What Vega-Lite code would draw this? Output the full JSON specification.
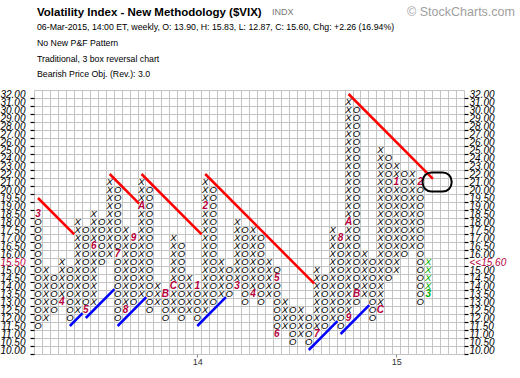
{
"$schema":"https://vega.github.io/schema/vega-lite/v6.json",
"width":430,"height":264,"autosize":"none",
"padding":{"left":34,"top":90,"right":56,"bottom":24},
"background":"white",
"config":{"view":{"stroke":null},"font":"Liberation Sans"},
"title":{"text":"Volatility Index - New Methodology ($VIX)","subtitle":["06-Mar-2015, 14:00 ET, weekly, O: 13.90, H: 15.83, L: 12.87, C: 15.60, Chg: +2.26 (16.94%)","No New P&F Pattern","Traditional, 3 box reversal chart","Bearish Price Obj. (Rev.): 3.0"],"anchor":"start","frame":"group","dx":3,"font":"Liberation Sans","fontSize":11.5,"fontWeight":"bold","color":"#000","subtitleFont":"Liberation Sans","subtitleFontSize":8.75,"subtitleColor":"#000","subtitleLineHeight":15.6,"subtitlePadding":5,"offset":-73},
"datasets":{
"pf":[
{"c":0,"r":15,"s":"3"},{"c":0,"r":16,"s":"O"},{"c":0,"r":17,"s":"O"},{"c":0,"r":18,"s":"O"},{"c":0,"r":19,"s":"O"},{"c":0,"r":20,"s":"O"},{"c":0,"r":21,"s":"O"},{"c":0,"r":22,"s":"O"},{"c":0,"r":23,"s":"O"},{"c":0,"r":24,"s":"O"},{"c":0,"r":25,"s":"O"},{"c":0,"r":26,"s":"O"},{"c":0,"r":27,"s":"O"},{"c":0,"r":28,"s":"O"},{"c":0,"r":29,"s":"O"},
{"c":1,"r":22,"s":"X"},{"c":1,"r":23,"s":"X"},{"c":1,"r":24,"s":"X"},{"c":1,"r":25,"s":"X"},{"c":1,"r":26,"s":"X"},{"c":1,"r":27,"s":"X"},{"c":1,"r":28,"s":"X"},
{"c":2,"r":23,"s":"O"},{"c":2,"r":24,"s":"O"},{"c":2,"r":25,"s":"O"},{"c":2,"r":26,"s":"O"},{"c":2,"r":27,"s":"O"},
{"c":3,"r":21,"s":"X"},{"c":3,"r":22,"s":"X"},{"c":3,"r":23,"s":"X"},{"c":3,"r":24,"s":"X"},{"c":3,"r":25,"s":"X"},{"c":3,"r":26,"s":"4"},
{"c":4,"r":22,"s":"O"},{"c":4,"r":23,"s":"O"},{"c":4,"r":24,"s":"O"},{"c":4,"r":25,"s":"O"},{"c":4,"r":26,"s":"O"},{"c":4,"r":27,"s":"O"},{"c":4,"r":28,"s":"O"},
{"c":5,"r":16,"s":"X"},{"c":5,"r":17,"s":"X"},{"c":5,"r":18,"s":"X"},{"c":5,"r":19,"s":"X"},{"c":5,"r":20,"s":"X"},{"c":5,"r":21,"s":"X"},{"c":5,"r":22,"s":"X"},{"c":5,"r":23,"s":"X"},{"c":5,"r":24,"s":"X"},{"c":5,"r":25,"s":"X"},{"c":5,"r":26,"s":"X"},{"c":5,"r":27,"s":"X"},
{"c":6,"r":17,"s":"O"},{"c":6,"r":18,"s":"O"},{"c":6,"r":19,"s":"O"},{"c":6,"r":20,"s":"O"},{"c":6,"r":21,"s":"O"},{"c":6,"r":22,"s":"O"},{"c":6,"r":23,"s":"O"},{"c":6,"r":24,"s":"O"},{"c":6,"r":25,"s":"O"},{"c":6,"r":26,"s":"O"},{"c":6,"r":27,"s":"5"},
{"c":7,"r":15,"s":"X"},{"c":7,"r":16,"s":"X"},{"c":7,"r":17,"s":"X"},{"c":7,"r":18,"s":"X"},{"c":7,"r":19,"s":"6"},{"c":7,"r":20,"s":"X"},{"c":7,"r":21,"s":"X"},{"c":7,"r":22,"s":"X"},{"c":7,"r":23,"s":"X"},{"c":7,"r":24,"s":"X"},{"c":7,"r":25,"s":"X"},{"c":7,"r":26,"s":"X"},
{"c":8,"r":16,"s":"O"},{"c":8,"r":17,"s":"O"},{"c":8,"r":18,"s":"O"},{"c":8,"r":19,"s":"O"},{"c":8,"r":20,"s":"O"},{"c":8,"r":21,"s":"O"},
{"c":9,"r":11,"s":"X"},{"c":9,"r":12,"s":"X"},{"c":9,"r":13,"s":"X"},{"c":9,"r":14,"s":"X"},{"c":9,"r":15,"s":"X"},{"c":9,"r":16,"s":"X"},{"c":9,"r":17,"s":"X"},{"c":9,"r":18,"s":"X"},{"c":9,"r":19,"s":"X"},{"c":9,"r":20,"s":"X"},
{"c":10,"r":12,"s":"O"},{"c":10,"r":13,"s":"O"},{"c":10,"r":14,"s":"O"},{"c":10,"r":15,"s":"O"},{"c":10,"r":16,"s":"O"},{"c":10,"r":17,"s":"O"},{"c":10,"r":18,"s":"O"},{"c":10,"r":19,"s":"O"},{"c":10,"r":20,"s":"7"},{"c":10,"r":21,"s":"O"},{"c":10,"r":22,"s":"O"},{"c":10,"r":23,"s":"O"},{"c":10,"r":24,"s":"O"},{"c":10,"r":25,"s":"O"},{"c":10,"r":26,"s":"O"},{"c":10,"r":27,"s":"O"},{"c":10,"r":28,"s":"O"},
{"c":11,"r":17,"s":"X"},{"c":11,"r":18,"s":"X"},{"c":11,"r":19,"s":"X"},{"c":11,"r":20,"s":"X"},{"c":11,"r":21,"s":"X"},{"c":11,"r":22,"s":"X"},{"c":11,"r":23,"s":"X"},{"c":11,"r":24,"s":"X"},{"c":11,"r":25,"s":"X"},{"c":11,"r":26,"s":"X"},{"c":11,"r":27,"s":"8"},
{"c":12,"r":18,"s":"9"},{"c":12,"r":19,"s":"O"},{"c":12,"r":20,"s":"O"},{"c":12,"r":21,"s":"O"},{"c":12,"r":22,"s":"O"},{"c":12,"r":23,"s":"O"},{"c":12,"r":24,"s":"O"},{"c":12,"r":25,"s":"O"},{"c":12,"r":26,"s":"O"},
{"c":13,"r":11,"s":"X"},{"c":13,"r":12,"s":"X"},{"c":13,"r":13,"s":"X"},{"c":13,"r":14,"s":"A"},{"c":13,"r":15,"s":"X"},{"c":13,"r":16,"s":"X"},{"c":13,"r":17,"s":"X"},{"c":13,"r":18,"s":"X"},{"c":13,"r":19,"s":"X"},{"c":13,"r":20,"s":"X"},{"c":13,"r":21,"s":"X"},{"c":13,"r":22,"s":"X"},{"c":13,"r":23,"s":"X"},{"c":13,"r":24,"s":"X"},{"c":13,"r":25,"s":"X"},
{"c":14,"r":12,"s":"O"},{"c":14,"r":13,"s":"O"},{"c":14,"r":14,"s":"O"},{"c":14,"r":15,"s":"O"},{"c":14,"r":16,"s":"O"},{"c":14,"r":17,"s":"O"},{"c":14,"r":18,"s":"O"},{"c":14,"r":19,"s":"O"},{"c":14,"r":20,"s":"O"},{"c":14,"r":21,"s":"O"},{"c":14,"r":22,"s":"O"},{"c":14,"r":23,"s":"O"},{"c":14,"r":24,"s":"O"},{"c":14,"r":25,"s":"O"},{"c":14,"r":26,"s":"O"},{"c":14,"r":27,"s":"O"},
{"c":15,"r":24,"s":"X"},{"c":15,"r":25,"s":"X"},{"c":15,"r":26,"s":"X"},
{"c":16,"r":25,"s":"B"},{"c":16,"r":26,"s":"O"},{"c":16,"r":27,"s":"O"},{"c":16,"r":28,"s":"O"},
{"c":17,"r":18,"s":"X"},{"c":17,"r":19,"s":"X"},{"c":17,"r":20,"s":"X"},{"c":17,"r":21,"s":"X"},{"c":17,"r":22,"s":"X"},{"c":17,"r":23,"s":"X"},{"c":17,"r":24,"s":"C"},{"c":17,"r":25,"s":"X"},{"c":17,"r":26,"s":"X"},{"c":17,"r":27,"s":"X"},
{"c":18,"r":19,"s":"O"},{"c":18,"r":20,"s":"O"},{"c":18,"r":21,"s":"O"},{"c":18,"r":22,"s":"O"},{"c":18,"r":23,"s":"O"},{"c":18,"r":24,"s":"O"},{"c":18,"r":25,"s":"O"},{"c":18,"r":26,"s":"O"},{"c":18,"r":27,"s":"O"},{"c":18,"r":28,"s":"O"},
{"c":19,"r":23,"s":"X"},{"c":19,"r":24,"s":"X"},{"c":19,"r":25,"s":"X"},{"c":19,"r":26,"s":"X"},{"c":19,"r":27,"s":"X"},
{"c":20,"r":24,"s":"1"},{"c":20,"r":25,"s":"O"},{"c":20,"r":26,"s":"O"},{"c":20,"r":27,"s":"O"},{"c":20,"r":28,"s":"O"},
{"c":21,"r":11,"s":"X"},{"c":21,"r":12,"s":"X"},{"c":21,"r":13,"s":"X"},{"c":21,"r":14,"s":"2"},{"c":21,"r":15,"s":"X"},{"c":21,"r":16,"s":"X"},{"c":21,"r":17,"s":"X"},{"c":21,"r":18,"s":"X"},{"c":21,"r":19,"s":"X"},{"c":21,"r":20,"s":"X"},{"c":21,"r":21,"s":"X"},{"c":21,"r":22,"s":"X"},{"c":21,"r":23,"s":"X"},{"c":21,"r":24,"s":"X"},{"c":21,"r":25,"s":"X"},{"c":21,"r":26,"s":"X"},{"c":21,"r":27,"s":"X"},
{"c":22,"r":12,"s":"O"},{"c":22,"r":13,"s":"O"},{"c":22,"r":14,"s":"O"},{"c":22,"r":15,"s":"O"},{"c":22,"r":16,"s":"O"},{"c":22,"r":17,"s":"O"},{"c":22,"r":18,"s":"O"},{"c":22,"r":19,"s":"O"},{"c":22,"r":20,"s":"O"},{"c":22,"r":21,"s":"O"},{"c":22,"r":22,"s":"O"},{"c":22,"r":23,"s":"O"},{"c":22,"r":24,"s":"O"},{"c":22,"r":25,"s":"O"},{"c":22,"r":26,"s":"O"},
{"c":23,"r":21,"s":"X"},{"c":23,"r":22,"s":"X"},{"c":23,"r":23,"s":"X"},{"c":23,"r":24,"s":"X"},{"c":23,"r":25,"s":"X"},
{"c":24,"r":22,"s":"O"},{"c":24,"r":23,"s":"O"},{"c":24,"r":24,"s":"O"},{"c":24,"r":25,"s":"O"},
{"c":25,"r":16,"s":"X"},{"c":25,"r":17,"s":"X"},{"c":25,"r":18,"s":"X"},{"c":25,"r":19,"s":"X"},{"c":25,"r":20,"s":"X"},{"c":25,"r":21,"s":"X"},{"c":25,"r":22,"s":"X"},{"c":25,"r":23,"s":"X"},{"c":25,"r":24,"s":"3"},
{"c":26,"r":17,"s":"O"},{"c":26,"r":18,"s":"O"},{"c":26,"r":19,"s":"O"},{"c":26,"r":20,"s":"O"},{"c":26,"r":21,"s":"O"},{"c":26,"r":22,"s":"O"},{"c":26,"r":23,"s":"O"},{"c":26,"r":24,"s":"O"},{"c":26,"r":25,"s":"O"},{"c":26,"r":26,"s":"O"},
{"c":27,"r":17,"s":"X"},{"c":27,"r":18,"s":"X"},{"c":27,"r":19,"s":"X"},{"c":27,"r":20,"s":"X"},{"c":27,"r":21,"s":"X"},{"c":27,"r":22,"s":"X"},{"c":27,"r":23,"s":"X"},{"c":27,"r":24,"s":"X"},{"c":27,"r":25,"s":"4"},
{"c":28,"r":18,"s":"O"},{"c":28,"r":19,"s":"O"},{"c":28,"r":20,"s":"O"},{"c":28,"r":21,"s":"O"},{"c":28,"r":22,"s":"O"},{"c":28,"r":23,"s":"O"},{"c":28,"r":24,"s":"O"},{"c":28,"r":25,"s":"O"},{"c":28,"r":26,"s":"O"},
{"c":29,"r":21,"s":"X"},{"c":29,"r":22,"s":"X"},{"c":29,"r":23,"s":"X"},{"c":29,"r":24,"s":"X"},{"c":29,"r":25,"s":"X"},
{"c":30,"r":22,"s":"O"},{"c":30,"r":23,"s":"5"},{"c":30,"r":24,"s":"O"},{"c":30,"r":25,"s":"O"},{"c":30,"r":26,"s":"O"},{"c":30,"r":27,"s":"O"},{"c":30,"r":28,"s":"O"},{"c":30,"r":29,"s":"O"},{"c":30,"r":30,"s":"6"},
{"c":31,"r":26,"s":"X"},{"c":31,"r":27,"s":"X"},{"c":31,"r":28,"s":"X"},{"c":31,"r":29,"s":"X"},
{"c":32,"r":27,"s":"O"},{"c":32,"r":28,"s":"O"},{"c":32,"r":29,"s":"O"},{"c":32,"r":30,"s":"O"},{"c":32,"r":31,"s":"O"},
{"c":33,"r":27,"s":"X"},{"c":33,"r":28,"s":"X"},{"c":33,"r":29,"s":"X"},{"c":33,"r":30,"s":"X"},
{"c":34,"r":28,"s":"O"},{"c":34,"r":29,"s":"O"},{"c":34,"r":30,"s":"O"},{"c":34,"r":31,"s":"O"},
{"c":35,"r":22,"s":"X"},{"c":35,"r":23,"s":"X"},{"c":35,"r":24,"s":"X"},{"c":35,"r":25,"s":"X"},{"c":35,"r":26,"s":"X"},{"c":35,"r":27,"s":"X"},{"c":35,"r":28,"s":"X"},{"c":35,"r":29,"s":"X"},{"c":35,"r":30,"s":"7"},
{"c":36,"r":23,"s":"O"},{"c":36,"r":24,"s":"O"},{"c":36,"r":25,"s":"O"},{"c":36,"r":26,"s":"O"},{"c":36,"r":27,"s":"O"},{"c":36,"r":28,"s":"O"},{"c":36,"r":29,"s":"O"},
{"c":37,"r":17,"s":"X"},{"c":37,"r":18,"s":"X"},{"c":37,"r":19,"s":"X"},{"c":37,"r":20,"s":"X"},{"c":37,"r":21,"s":"X"},{"c":37,"r":22,"s":"X"},{"c":37,"r":23,"s":"X"},{"c":37,"r":24,"s":"X"},{"c":37,"r":25,"s":"X"},{"c":37,"r":26,"s":"X"},{"c":37,"r":27,"s":"X"},{"c":37,"r":28,"s":"X"},
{"c":38,"r":18,"s":"8"},{"c":38,"r":19,"s":"O"},{"c":38,"r":20,"s":"O"},{"c":38,"r":21,"s":"O"},{"c":38,"r":22,"s":"O"},{"c":38,"r":23,"s":"O"},{"c":38,"r":24,"s":"O"},{"c":38,"r":25,"s":"O"},{"c":38,"r":26,"s":"O"},{"c":38,"r":27,"s":"O"},{"c":38,"r":28,"s":"O"},{"c":38,"r":29,"s":"O"},
{"c":39,"r":1,"s":"X"},{"c":39,"r":2,"s":"X"},{"c":39,"r":3,"s":"X"},{"c":39,"r":4,"s":"X"},{"c":39,"r":5,"s":"X"},{"c":39,"r":6,"s":"X"},{"c":39,"r":7,"s":"X"},{"c":39,"r":8,"s":"X"},{"c":39,"r":9,"s":"X"},{"c":39,"r":10,"s":"X"},{"c":39,"r":11,"s":"X"},{"c":39,"r":12,"s":"X"},{"c":39,"r":13,"s":"X"},{"c":39,"r":14,"s":"X"},{"c":39,"r":15,"s":"X"},{"c":39,"r":16,"s":"A"},{"c":39,"r":17,"s":"X"},{"c":39,"r":18,"s":"X"},{"c":39,"r":19,"s":"X"},{"c":39,"r":20,"s":"X"},{"c":39,"r":21,"s":"X"},{"c":39,"r":22,"s":"X"},{"c":39,"r":23,"s":"X"},{"c":39,"r":24,"s":"X"},{"c":39,"r":25,"s":"X"},{"c":39,"r":26,"s":"X"},{"c":39,"r":27,"s":"X"},{"c":39,"r":28,"s":"9"},
{"c":40,"r":2,"s":"O"},{"c":40,"r":3,"s":"O"},{"c":40,"r":4,"s":"O"},{"c":40,"r":5,"s":"O"},{"c":40,"r":6,"s":"O"},{"c":40,"r":7,"s":"O"},{"c":40,"r":8,"s":"O"},{"c":40,"r":9,"s":"O"},{"c":40,"r":10,"s":"O"},{"c":40,"r":11,"s":"O"},{"c":40,"r":12,"s":"O"},{"c":40,"r":13,"s":"O"},{"c":40,"r":14,"s":"O"},{"c":40,"r":15,"s":"O"},{"c":40,"r":16,"s":"O"},{"c":40,"r":17,"s":"O"},{"c":40,"r":18,"s":"O"},{"c":40,"r":19,"s":"O"},{"c":40,"r":20,"s":"O"},{"c":40,"r":21,"s":"O"},{"c":40,"r":22,"s":"O"},{"c":40,"r":23,"s":"O"},{"c":40,"r":24,"s":"O"},{"c":40,"r":25,"s":"B"},{"c":40,"r":26,"s":"O"},
{"c":41,"r":20,"s":"X"},{"c":41,"r":21,"s":"X"},{"c":41,"r":22,"s":"X"},{"c":41,"r":23,"s":"X"},{"c":41,"r":24,"s":"X"},{"c":41,"r":25,"s":"X"},
{"c":42,"r":21,"s":"O"},{"c":42,"r":22,"s":"O"},{"c":42,"r":23,"s":"O"},{"c":42,"r":24,"s":"O"},{"c":42,"r":25,"s":"O"},{"c":42,"r":26,"s":"O"},{"c":42,"r":27,"s":"O"},{"c":42,"r":28,"s":"O"},
{"c":43,"r":7,"s":"X"},{"c":43,"r":8,"s":"X"},{"c":43,"r":9,"s":"X"},{"c":43,"r":10,"s":"X"},{"c":43,"r":11,"s":"X"},{"c":43,"r":12,"s":"X"},{"c":43,"r":13,"s":"X"},{"c":43,"r":14,"s":"X"},{"c":43,"r":15,"s":"X"},{"c":43,"r":16,"s":"X"},{"c":43,"r":17,"s":"X"},{"c":43,"r":18,"s":"X"},{"c":43,"r":19,"s":"X"},{"c":43,"r":20,"s":"X"},{"c":43,"r":21,"s":"X"},{"c":43,"r":22,"s":"X"},{"c":43,"r":23,"s":"X"},{"c":43,"r":24,"s":"X"},{"c":43,"r":25,"s":"X"},{"c":43,"r":26,"s":"X"},{"c":43,"r":27,"s":"C"},
{"c":44,"r":8,"s":"O"},{"c":44,"r":9,"s":"O"},{"c":44,"r":10,"s":"O"},{"c":44,"r":11,"s":"O"},{"c":44,"r":12,"s":"O"},{"c":44,"r":13,"s":"O"},{"c":44,"r":14,"s":"O"},{"c":44,"r":15,"s":"O"},{"c":44,"r":16,"s":"O"},{"c":44,"r":17,"s":"O"},{"c":44,"r":18,"s":"O"},{"c":44,"r":19,"s":"O"},{"c":44,"r":20,"s":"O"},{"c":44,"r":21,"s":"O"},{"c":44,"r":22,"s":"O"},{"c":44,"r":23,"s":"O"},
{"c":45,"r":9,"s":"X"},{"c":45,"r":10,"s":"X"},{"c":45,"r":11,"s":"1"},{"c":45,"r":12,"s":"X"},{"c":45,"r":13,"s":"X"},{"c":45,"r":14,"s":"X"},{"c":45,"r":15,"s":"X"},{"c":45,"r":16,"s":"X"},{"c":45,"r":17,"s":"X"},{"c":45,"r":18,"s":"X"},{"c":45,"r":19,"s":"X"},{"c":45,"r":20,"s":"X"},{"c":45,"r":21,"s":"X"},{"c":45,"r":22,"s":"X"},
{"c":46,"r":10,"s":"O"},{"c":46,"r":11,"s":"O"},{"c":46,"r":12,"s":"O"},{"c":46,"r":13,"s":"O"},{"c":46,"r":14,"s":"O"},{"c":46,"r":15,"s":"O"},{"c":46,"r":16,"s":"O"},{"c":46,"r":17,"s":"O"},{"c":46,"r":18,"s":"O"},{"c":46,"r":19,"s":"O"},{"c":46,"r":20,"s":"O"},
{"c":47,"r":10,"s":"X"},{"c":47,"r":11,"s":"X"},{"c":47,"r":12,"s":"X"},{"c":47,"r":13,"s":"X"},{"c":47,"r":14,"s":"X"},{"c":47,"r":15,"s":"X"},{"c":47,"r":16,"s":"X"},{"c":47,"r":17,"s":"X"},{"c":47,"r":18,"s":"X"},{"c":47,"r":19,"s":"X"},
{"c":48,"r":11,"s":"2"},{"c":48,"r":12,"s":"O"},{"c":48,"r":13,"s":"O"},{"c":48,"r":14,"s":"O"},{"c":48,"r":15,"s":"O"},{"c":48,"r":16,"s":"O"},{"c":48,"r":17,"s":"O"},{"c":48,"r":18,"s":"O"},{"c":48,"r":19,"s":"O"},{"c":48,"r":20,"s":"O"},{"c":48,"r":21,"s":"O"},{"c":48,"r":22,"s":"O"},{"c":48,"r":23,"s":"O"},{"c":48,"r":24,"s":"O"},{"c":48,"r":25,"s":"O"},{"c":48,"r":26,"s":"O"},
{"c":49,"r":21,"s":"X"},{"c":49,"r":22,"s":"X"},{"c":49,"r":23,"s":"X"},{"c":49,"r":24,"s":"X"},{"c":49,"r":25,"s":"3"}
],
"tl":[
{"id":"R1","k":"bear","c":0,"r":13},{"id":"R1","k":"bear","c":4.55,"r":17.55},
{"id":"R2","k":"bear","c":9,"r":10},{"id":"R2","k":"bear","c":12.7,"r":13.7},
{"id":"R3","k":"bear","c":13,"r":10},{"id":"R3","k":"bear","c":20.55,"r":17.55},
{"id":"R4","k":"bear","c":21,"r":10},{"id":"R4","k":"bear","c":34.7,"r":23.7},
{"id":"R5","k":"bear","c":39,"r":0},{"id":"R5","k":"bear","c":49.6,"r":10.6},
{"id":"B1","k":"bull","c":4,"r":29},{"id":"B1","k":"bull","c":5.6,"r":27.4},
{"id":"B2","k":"bull","c":6,"r":28},{"id":"B2","k":"bull","c":9.6,"r":24.4},
{"id":"B3","k":"bull","c":10,"r":29},{"id":"B3","k":"bull","c":13.6,"r":25.4},
{"id":"B4","k":"bull","c":20,"r":29},{"id":"B4","k":"bull","c":23.6,"r":25.4},
{"id":"B5","k":"bull","c":34,"r":32},{"id":"B5","k":"bull","c":37.6,"r":28.4},
{"id":"B6","k":"bull","c":38,"r":30},{"id":"B6","k":"bull","c":41.6,"r":26.4}
],
"box":[{"c1":48.3,"c2":51.95,"r1":9.8,"r2":12.2}],
"notes":[{"c":29.4,"r":-10.25,"t":"INDX"}],
"brand":[{"c":59.9,"r":-10.25,"t":"© StockCharts.com"}]
},
"layer":[
{"data":{"name":"pf"},"transform":[{"filter":"datum.s == 'X' || datum.s == 'O'"}],
"mark":{"type":"text","font":"Liberation Sans","fontStyle":"italic","fontSize":9.5,"align":"center","baseline":"middle"},
"encoding":{
"x":{"field":"c","type":"quantitative","scale":{"domain":[-0.5,53.5],"nice":false,"zero":false},
"axis":{"orient":"top","values":[-0.5,0.5,1.5,2.5,3.5,4.5,5.5,6.5,7.5,8.5,9.5,10.5,11.5,12.5,13.5,14.5,15.5,16.5,17.5,18.5,19.5,20.5,21.5,22.5,23.5,24.5,25.5,26.5,27.5,28.5,29.5,30.5,31.5,32.5,33.5,34.5,35.5,36.5,37.5,38.5,39.5,40.5,41.5,42.5,43.5,44.5,45.5,46.5,47.5,48.5,49.5,50.5,51.5,52.5,53.5],"grid":true,"gridColor":"#c4c4c4","gridOpacity":1,"gridWidth":1,"labels":false,"ticks":false,"domain":false,"title":null}},
"y":{"field":"r","type":"quantitative","scale":{"domain":[-0.5,32.5],"nice":false,"zero":false,"reverse":true},
"axis":{"orient":"left","values":[-0.5,0.5,1.5,2.5,3.5,4.5,5.5,6.5,7.5,8.5,9.5,10.5,11.5,12.5,13.5,14.5,15.5,16.5,17.5,18.5,19.5,20.5,21.5,22.5,23.5,24.5,25.5,26.5,27.5,28.5,29.5,30.5,31.5,32.5],"grid":true,"gridColor":"#c4c4c4","gridOpacity":1,"gridWidth":1,"domain":false,"ticks":true,"tickSize":4,"tickColor":"#000","tickWidth":1.2,"tickOpacity":{"condition":{"test":"datum.value < 0","value":0},"value":1},"labelExpr":"datum.value < 0 ? '' : format(datum.value <= 12.5 ? 32.5 - datum.value : 26.25 - datum.value * 0.5, '.2f')","labelOffset":-4,"labelPadding":5,"labelFont":"Liberation Sans","labelFontStyle":"italic","labelFontSize":10,"labelColor":{"condition":{"test":"datum.value == 21.5","value":"#b8003c"},"value":"#000"},"labelOverlap":false,"labelFlush":false,"labelBound":false,"title":null}},
"text":{"field":"s"},
"color":{"condition":{"test":"datum.c == 49","value":"#00b000"},"value":"#000000"}
}},
{"data":{"name":"pf"},"transform":[{"filter":"datum.s != 'X' && datum.s != 'O'"}],
"mark":{"type":"text","font":"Liberation Sans","fontStyle":"italic","fontWeight":"bold","fontSize":10,"align":"center","baseline":"middle"},
"encoding":{
"x":{"field":"c","type":"quantitative","scale":{"domain":[-0.5,53.5],"nice":false,"zero":false},
"axis":{"orient":"bottom","values":[20,45],"labelExpr":"datum.value == 20 ? '14' : '15'","grid":false,"domain":false,"ticks":true,"tickSize":3,"tickColor":"#888","labelPadding":0,"labelFont":"Liberation Sans","labelFontSize":9,"labelColor":"#333","labelFlush":false,"title":null}},
"y":{"field":"r","type":"quantitative","scale":{"domain":[-0.5,32.5],"nice":false,"zero":false,"reverse":true},
"axis":{"orient":"right","values":[-0.5,0.5,1.5,2.5,3.5,4.5,5.5,6.5,7.5,8.5,9.5,10.5,11.5,12.5,13.5,14.5,15.5,16.5,17.5,18.5,19.5,20.5,21.5,22.5,23.5,24.5,25.5,26.5,27.5,28.5,29.5,30.5,31.5,32.5],"grid":false,"domain":false,"ticks":true,"tickSize":4,"tickColor":"#000","tickWidth":1.2,"tickOpacity":{"condition":{"test":"datum.value < 0","value":0},"value":1},"labelExpr":"datum.value < 0 ? '' : datum.value == 21.5 ? '<<15.60' : format(datum.value <= 12.5 ? 32.5 - datum.value : 26.25 - datum.value * 0.5, '.2f')","labelOffset":-4,"labelPadding":1,"labelFont":"Liberation Sans","labelFontStyle":"italic","labelFontSize":10,"labelColor":{"condition":{"test":"datum.value == 21.5","value":"#b8003c"},"value":"#000"},"labelOverlap":false,"labelFlush":false,"labelBound":false,"title":null}},
"text":{"field":"s"},
"color":{"condition":{"test":"datum.c == 49","value":"#00b000"},"value":"#b8003c"}
}},
{"data":{"name":"tl"},"mark":{"type":"line","strokeWidth":2.5},
"encoding":{
"x":{"field":"c","type":"quantitative","scale":{"domain":[-0.5,53.5],"nice":false,"zero":false},"axis":null},
"y":{"field":"r","type":"quantitative","scale":{"domain":[-0.5,32.5],"nice":false,"zero":false,"reverse":true},"axis":null},
"detail":{"field":"id"},
"color":{"field":"k","type":"nominal","scale":{"domain":["bear","bull"],"range":["#ff0000","#0000ff"]},"legend":null}
}},
{"data":{"name":"box"},"mark":{"type":"rect","filled":false,"color":"#000","strokeWidth":2,"cornerRadius":9},
"encoding":{
"x":{"field":"c1","type":"quantitative","scale":{"domain":[-0.5,53.5],"nice":false,"zero":false},"axis":null},
"x2":{"field":"c2"},
"y":{"field":"r1","type":"quantitative","scale":{"domain":[-0.5,32.5],"nice":false,"zero":false,"reverse":true},"axis":null},
"y2":{"field":"r2"}
}},
{"data":{"name":"notes"},"mark":{"type":"text","font":"Liberation Sans","fontSize":9,"align":"left","baseline":"middle","color":"#777"},
"encoding":{
"x":{"field":"c","type":"quantitative","scale":{"domain":[-0.5,53.5],"nice":false,"zero":false},"axis":null},
"y":{"field":"r","type":"quantitative","scale":{"domain":[-0.5,32.5],"nice":false,"zero":false,"reverse":true},"axis":null},
"text":{"field":"t"}
}},
{"data":{"name":"brand"},"mark":{"type":"text","font":"Liberation Sans","fontSize":12.5,"align":"right","baseline":"middle","color":"#a0a0a0"},
"encoding":{
"x":{"field":"c","type":"quantitative","scale":{"domain":[-0.5,53.5],"nice":false,"zero":false},"axis":null},
"y":{"field":"r","type":"quantitative","scale":{"domain":[-0.5,32.5],"nice":false,"zero":false,"reverse":true},"axis":null},
"text":{"field":"t"}
}}
],
"resolve":{"axis":{"x":"independent","y":"independent"}}
}
